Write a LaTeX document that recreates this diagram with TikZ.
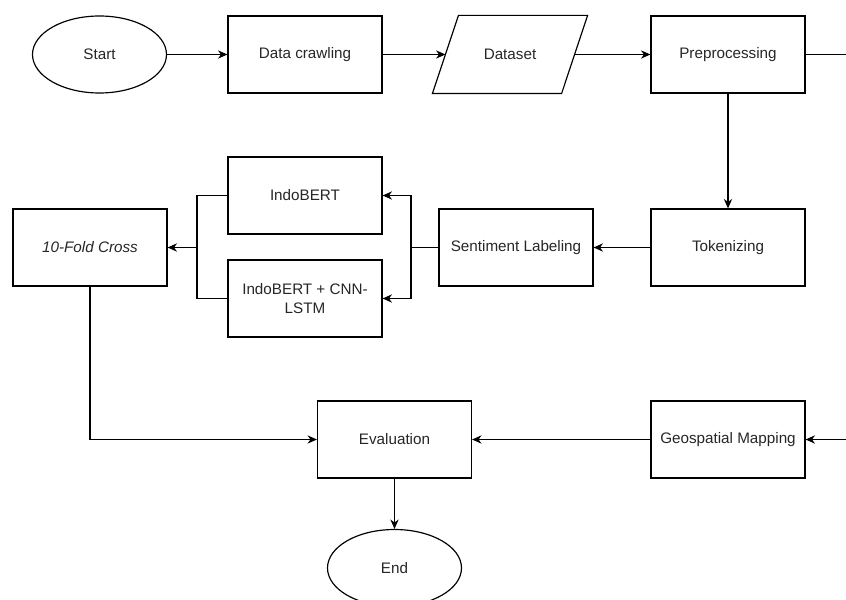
\documentclass[tikz,border=0pt]{standalone}
\usepackage{fontspec}
\setmainfont{Liberation Sans}
\usetikzlibrary{positioning, shapes.geometric, arrows.meta}

\begin{document}
\begin{tikzpicture}[x=0.03cm, y=-0.03cm,
    line width=1pt,
    every node/.style={font=\fontsize{13}{15.5}\selectfont, inner sep=0pt, text=black!85},
    term/.style={draw, ellipse, minimum width=4.02cm, minimum height=2.31cm},
    box/.style={draw, rectangle, minimum width=4.62cm, minimum height=2.31cm, align=center},
    iobox/.style={rectangle, minimum width=3.84cm, minimum height=2.31cm},
    >={Stealth[length=8pt, width=7pt, inset=2.5pt]}]
            \useasboundingbox (0, 0) rectangle (846, 600);

            \node [term] (start) at (99.5, 54.5) {Start};
            \node [box] (crawl) at (305, 54.5) {Data crawling};
            \node [iobox] (dataset) at (510, 54.5) {Dataset};
            \node [box] (prep) at (728, 54.5) {Preprocessing};
            \node [box] (token) at (728, 247.5) {Tokenizing};
            \node [box] (label) at (516, 247.5) {Sentiment Labeling};
            \node [box] (bert) at (305, 195.5) {IndoBERT};
            \node [box] (hybrid) at (305, 298.5) {IndoBERT + CNN-\\LSTM};
            \node [box, font=\fontsize{13}{15.5}\selectfont\itshape] (fold) at (90, 247.5) {10-Fold Cross};
            \node [box] (eval) at (394.5, 439.5) {Evaluation};
            \node [box] (geo) at (728, 439.5) {Geospatial Mapping};
            \node [term] (end) at (394.5, 568) {End};

            % slanted outline of the dataset box
            \draw ([xshift=-0.39cm]dataset.south west) -- ([xshift=0.39cm]dataset.north west)
                -- ([xshift=0.39cm]dataset.north east) -- ([xshift=-0.39cm]dataset.south east) -- cycle;

            \coordinate (outright) at (846, 54.5);
            \coordinate (inright) at (846, 439.5);
            \coordinate (split) at (411, 247.5);
            \coordinate (join) at (197, 247.5);

            \draw [->] (start) -- (crawl);
            \draw [->] (crawl) -- (dataset);
            \draw [->] (dataset) -- (prep);
            \draw (prep) -- (outright);
            \draw [->] (prep) -- (token);
            \draw [->] (token) -- (label);
            \draw (label) -- (split);
            \draw [->] (split) |- (bert);
            \draw [->] (split) |- (hybrid);
            \draw (bert) -| (join);
            \draw (hybrid) -| (join);
            \draw [->] (join) -- (fold);
            \draw [->] (fold) |- (eval);
            \draw [->] (inright) -- (geo);
            \draw [->] (geo) -- (eval);
            \draw [->] (eval) -- (end);
        \end{tikzpicture}
\end{document}
